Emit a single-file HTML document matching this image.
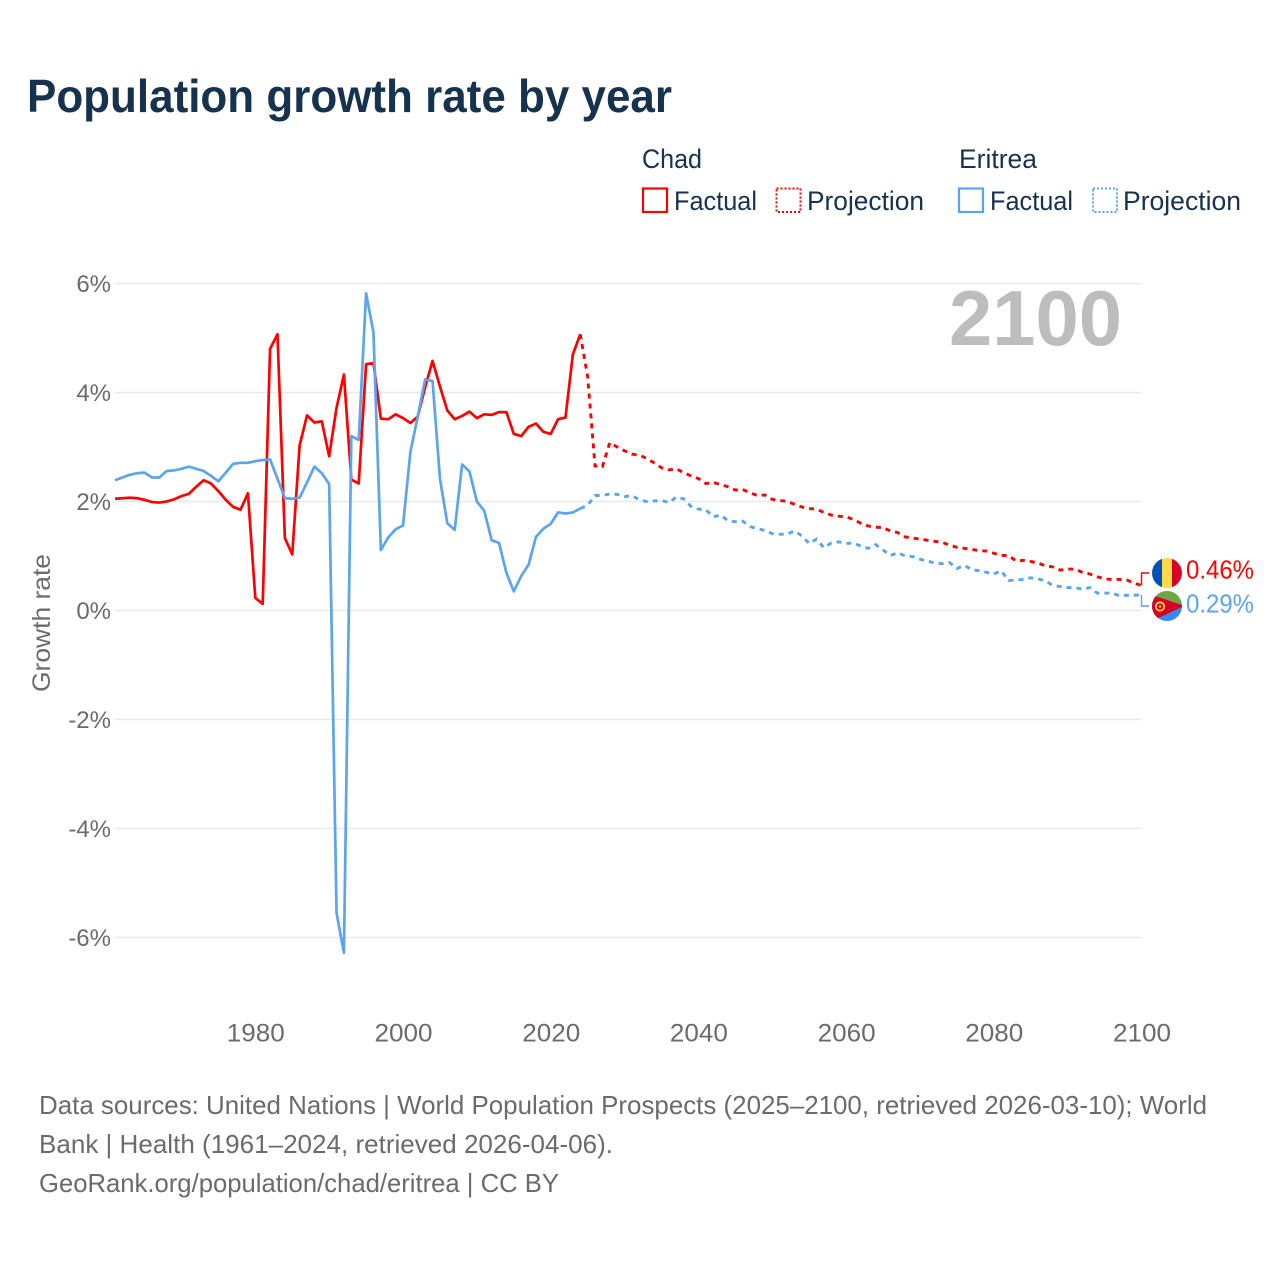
<!DOCTYPE html>
<html lang="en">
<head>
<meta charset="utf-8">
<title>Population growth rate by year</title>
<style>
html,body{margin:0;padding:0;background:#fff;}
svg{display:block;font-family:"Liberation Sans",sans-serif;}
</style>
</head>
<body>
<svg id="chart" xmlns="http://www.w3.org/2000/svg" width="1280" height="1280" viewBox="0 0 1280 1280">
  <rect x="0" y="0" width="1280" height="1280" fill="#fff"/>
  <text x="27" y="112" font-size="46" font-weight="700" fill="#17324f" textLength="645" lengthAdjust="spacingAndGlyphs">Population growth rate by year</text>

  <g font-size="27" fill="#17324f">
    <text x="642" y="168" textLength="60" lengthAdjust="spacingAndGlyphs">Chad</text>
    <text x="959" y="168" textLength="78" lengthAdjust="spacingAndGlyphs">Eritrea</text>
    <rect x="643" y="188.5" width="24" height="23.5" fill="none" stroke="#ff0000" stroke-width="2.2"/>
    <text x="674" y="210" textLength="83" lengthAdjust="spacingAndGlyphs">Factual</text>
    <rect x="776.5" y="188.5" width="24" height="23.5" fill="none" stroke="#ff0000" stroke-width="2" stroke-dasharray="2 2"/>
    <text x="807" y="210" textLength="117" lengthAdjust="spacingAndGlyphs">Projection</text>
    <rect x="959" y="188.5" width="24" height="23.5" fill="none" stroke="#5ba4ee" stroke-width="2.2"/>
    <text x="990" y="210" textLength="83" lengthAdjust="spacingAndGlyphs">Factual</text>
    <rect x="1093" y="188.5" width="24" height="23.5" fill="none" stroke="#5ba4ee" stroke-width="2" stroke-dasharray="2 2"/>
    <text x="1123" y="210" textLength="118" lengthAdjust="spacingAndGlyphs">Projection</text>
  </g>

  <g id="grid"></g>
  <g id="y-ticks" font-size="24" fill="#6b6b6b" text-anchor="end"></g>
  <g id="x-ticks" font-size="25" fill="#6b6b6b" text-anchor="middle"></g>
  <text transform="translate(50,692) rotate(-90)" font-size="25" fill="#6b6b6b" textLength="138" lengthAdjust="spacingAndGlyphs">Growth rate</text>
  <text x="949" y="345" font-size="78" font-weight="700" fill="#bdbdbd" textLength="173" lengthAdjust="spacingAndGlyphs">2100</text>

  <g id="series"></g>
  <g id="connectors"></g>

  <defs>
    <clipPath id="chad-clip"><circle cx="1167" cy="573" r="15"/></clipPath>
    <clipPath id="eritrea-clip"><circle cx="1167" cy="606" r="15"/></clipPath>
  </defs>
  <g clip-path="url(#chad-clip)">
    <rect x="1152" y="558" width="10" height="30" fill="#0052b4"/>
    <rect x="1162" y="558" width="10" height="30" fill="#ffda44"/>
    <rect x="1172" y="558" width="10" height="30" fill="#d80027"/>
  </g>
  <g clip-path="url(#eritrea-clip)">
    <rect x="1152" y="591" width="30" height="15" fill="#6da544"/>
    <rect x="1152" y="606" width="30" height="15" fill="#338af3"/>
    <polygon points="1152,595 1182,605 1182,607 1152,621" fill="#d80027"/>
    <circle cx="1160" cy="606.5" r="4.2" fill="none" stroke="#ffda44" stroke-width="1.8"/>
    <circle cx="1160" cy="606.5" r="1.2" fill="#ffda44"/>
  </g>
  <g id="end-labels" font-size="26"></g>

  <g font-size="26" fill="#6b6b6b">
    <text x="39" y="1114" textLength="1168" lengthAdjust="spacingAndGlyphs">Data sources: United Nations | World Population Prospects (2025–2100, retrieved 2026-03-10); World</text>
    <text x="39" y="1153" textLength="574" lengthAdjust="spacingAndGlyphs">Bank | Health (1961–2024, retrieved 2026-04-06).</text>
    <text x="39" y="1192" textLength="520" lengthAdjust="spacingAndGlyphs">GeoRank.org/population/chad/eritrea | CC BY</text>
  </g>
</svg>

<script>
const factualStartYear = 1961;
const projectionStartYear = 2024;

const chadFactual = [
  2.05,2.06,2.07,2.06,2.03,1.99,1.98,2.00,2.04,2.10,2.14,2.27,2.39,2.33,2.19,2.03,1.90,1.85,2.15,
  0.23,0.12,4.80,5.07,1.33,1.03,3.03,3.58,3.45,3.47,2.83,3.72,4.33,2.40,2.33,4.52,4.54,
  3.52,3.51,3.60,3.53,3.44,3.56,4.10,4.58,4.11,3.67,3.51,3.57,3.65,3.53,3.60,3.59,3.64,3.64,
  3.24,3.20,3.37,3.43,3.28,3.24,3.51,3.54,4.70,5.07
];
const chadProjection = [
  5.07,4.29,2.65,2.64,3.08,3.00,2.93,2.87,2.85,2.79,2.71,2.62,2.58,2.60,2.53,2.47,2.42,
  2.33,2.35,2.31,2.27,2.21,2.22,2.16,2.11,2.12,2.04,2.02,2.00,1.95,1.90,1.87,1.86,1.80,1.75,1.73,1.72,
  1.67,1.60,1.55,1.53,1.52,1.46,1.43,1.35,1.33,1.31,1.29,1.27,1.25,1.20,1.16,1.14,1.12,1.10,1.09,
  1.05,1.01,1.01,0.91,0.92,0.90,0.87,0.82,0.80,0.74,0.76,0.76,0.70,0.67,0.62,0.58,0.57,0.57,0.56,0.50,0.46
];
const eritreaFactual = [
  2.39,2.44,2.49,2.52,2.53,2.44,2.44,2.56,2.57,2.60,2.64,2.60,2.56,2.47,2.37,2.53,2.69,2.71,2.71,
  2.74,2.76,2.77,2.42,2.06,2.05,2.07,2.35,2.64,2.52,2.32,-5.55,-6.28,3.20,3.13,5.82,5.10,
  1.11,1.34,1.49,1.56,2.91,3.56,4.24,4.21,2.42,1.60,1.48,2.68,2.55,2.00,1.83,1.29,1.24,0.69,
  0.35,0.63,0.84,1.35,1.50,1.59,1.80,1.78,1.80,1.87
];
const eritreaProjection = [
  1.87,1.93,2.11,2.11,2.14,2.13,2.09,2.11,2.03,2.00,2.01,2.02,1.98,2.08,2.05,1.91,1.86,
  1.85,1.72,1.75,1.65,1.63,1.64,1.54,1.50,1.47,1.41,1.40,1.40,1.46,1.37,1.23,1.31,1.15,1.24,1.26,1.23,
  1.24,1.18,1.14,1.21,1.11,1.01,1.06,1.00,0.99,0.94,0.91,0.87,0.86,0.88,0.77,0.83,0.75,0.73,0.70,
  0.67,0.73,0.55,0.56,0.57,0.60,0.58,0.54,0.46,0.44,0.42,0.42,0.39,0.42,0.32,0.32,0.32,0.27,0.28,0.28,0.29
];
const yTickValues = [6,4,2,0,-2,-4,-6];
const xTickYears = [1980,2000,2020,2040,2060,2080,2100];

const NS = 'http://www.w3.org/2000/svg';
const xScale = year => 115 + (year - 1961) * (1141.5 - 115) / 139;
const yScale = value => 610.5 - value * 54.5;

function node(tag, parent, attrs, text) {
  const el = document.createElementNS(NS, tag);
  for (const key in attrs) el.setAttribute(key, attrs[key]);
  if (text !== undefined) el.textContent = text;
  parent.appendChild(el);
  return el;
}

const gridGroup = document.getElementById('grid');
const yTickGroup = document.getElementById('y-ticks');
yTickValues.forEach(v => {
  const line = node('line', gridGroup, {x1: 115, x2: 1141.5, y1: yScale(v), y2: yScale(v), stroke: '#e9e9e9', 'stroke-width': 1.5});
  
  
  const label = node('text', yTickGroup, {x: 111, y: yScale(v) + 8.5}, v + '%');
  
  
});

const xTickGroup = document.getElementById('x-ticks');
xTickYears.forEach(year => {
  const label = node('text', xTickGroup, {x: xScale(year) + 0.5, y: 1041.5, textLength: 58, lengthAdjust: 'spacingAndGlyphs'}, String(year));
  
  
});

function linePoints(values, startYear) {
  return values.map((v, i) => xScale(startYear + i).toFixed(2) + ',' + yScale(v).toFixed(2)).join(' ');
}

const seriesGroup = document.getElementById('series');
const chadColor = '#ff0000';
const eritreaColor = '#5ba4ee';

const chadFactualLine = node('polyline', seriesGroup, {points: linePoints(chadFactual, factualStartYear), fill: 'none', stroke: chadColor, 'stroke-width': 2.7, 'stroke-linejoin': 'round'});



const chadProjectionLine = node('polyline', seriesGroup, {points: linePoints(chadProjection, projectionStartYear), fill: 'none', stroke: chadColor, 'stroke-width': 2.9, 'stroke-dasharray': '5 5'});



const eritreaFactualLine = node('polyline', seriesGroup, {points: linePoints(eritreaFactual, factualStartYear), fill: 'none', stroke: eritreaColor, 'stroke-width': 2.7, 'stroke-linejoin': 'round'});



const eritreaProjectionLine = node('polyline', seriesGroup, {points: linePoints(eritreaProjection, projectionStartYear), fill: 'none', stroke: eritreaColor, 'stroke-width': 2.9, 'stroke-dasharray': '5 5'});



const connectorGroup = document.getElementById('connectors');
const endLabelGroup = document.getElementById('end-labels');
const chadEnd = chadProjection[chadProjection.length - 1];
const eritreaEnd = eritreaProjection[eritreaProjection.length - 1];

const chadConnector = node('polyline', connectorGroup, {points: xScale(2100) + ',' + yScale(chadEnd) + ' ' + xScale(2100) + ',573 1149,573', fill: 'none', stroke: chadColor, 'stroke-width': 1.4});



const eritreaConnector = node('polyline', connectorGroup, {points: xScale(2100) + ',' + yScale(eritreaEnd) + ' ' + xScale(2100) + ',606 1149,606', fill: 'none', stroke: eritreaColor, 'stroke-width': 1.4});



const chadEndLabel = node('text', endLabelGroup, {x: 1186, y: 578.5, fill: chadColor, textLength: 68, lengthAdjust: 'spacingAndGlyphs'}, chadEnd.toFixed(2) + '%');



const eritreaEndLabel = node('text', endLabelGroup, {x: 1186, y: 612.5, fill: eritreaColor, textLength: 68, lengthAdjust: 'spacingAndGlyphs'}, eritreaEnd.toFixed(2) + '%');


</script>
</body>
</html>
